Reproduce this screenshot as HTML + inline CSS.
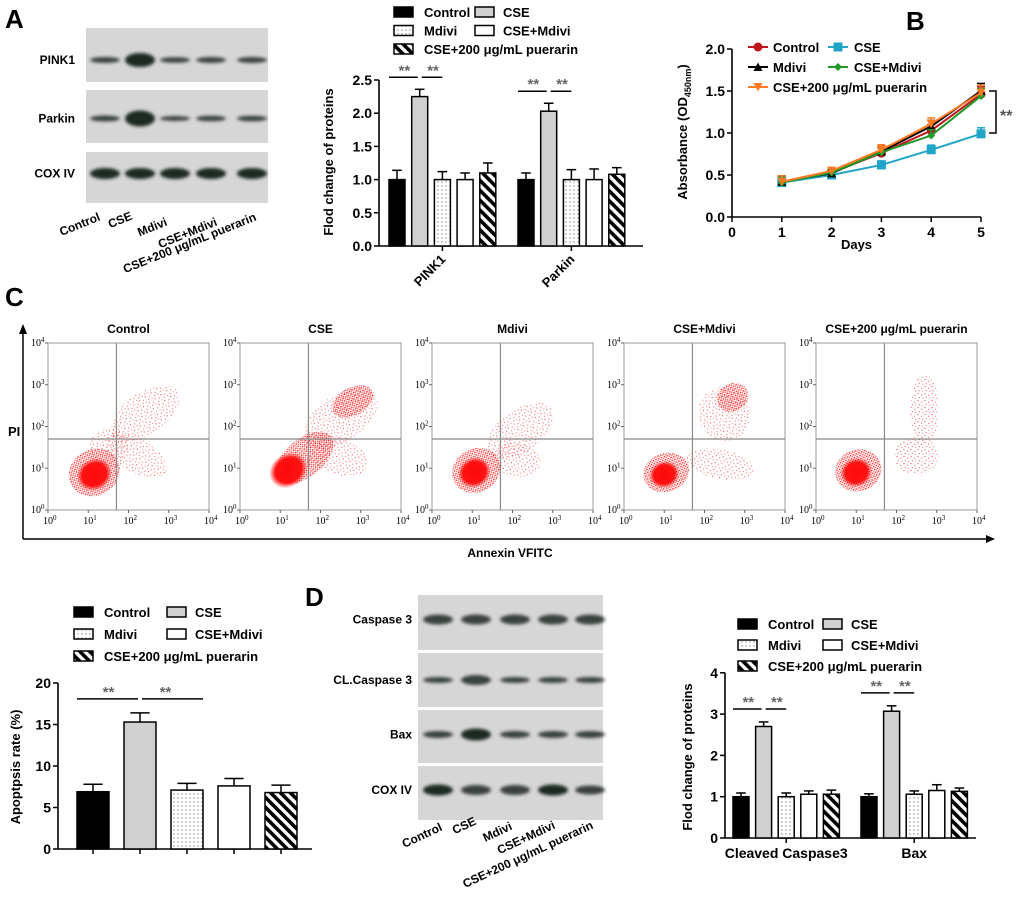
<!DOCTYPE html>
<html><head><meta charset="utf-8"><title>Figure</title>
<style>
html,body{margin:0;padding:0;background:#fff;}
svg{display:block;}
text{font-family:"Liberation Sans",Arial,sans-serif;font-weight:bold;}
.serif{font-family:"Liberation Serif",serif;font-weight:normal;}
</style></head>
<body>
<svg id="fig" width="1020" height="907" viewBox="0 0 1020 907">
<defs>
  <pattern id="dots" width="4" height="4" patternUnits="userSpaceOnUse"><rect width="4" height="4" fill="#fff"/><circle cx="2" cy="2" r="0.7" fill="#8a8a8a"/></pattern>
  <pattern id="hatch" width="7" height="7" patternUnits="userSpaceOnUse" patternTransform="rotate(-45)"><rect width="7" height="7" fill="#fff"/><rect width="3.6" height="7" fill="#000"/></pattern>
  <pattern id="sp1" width="7" height="7" patternUnits="userSpaceOnUse"><circle cx="1" cy="1.5" r="0.6" fill="#f22"/><circle cx="4.6" cy="3.2" r="0.6" fill="#f44"/><circle cx="2.3" cy="5.6" r="0.55" fill="#f33"/><circle cx="5.8" cy="6.2" r="0.5" fill="#f22"/></pattern>
  <pattern id="sp2" width="3" height="3" patternUnits="userSpaceOnUse"><circle cx="1" cy="1" r="0.8" fill="#f00"/><circle cx="2.5" cy="2.4" r="0.6" fill="#f33"/></pattern>
  <radialGradient id="core"><stop offset="0" stop-color="#f00" stop-opacity="1"/><stop offset="0.7" stop-color="#f00" stop-opacity="0.95"/><stop offset="1" stop-color="#f00" stop-opacity="0"/></radialGradient>
  <filter id="blur" x="-50%" y="-100%" width="200%" height="300%"><feGaussianBlur stdDeviation="1.6"/></filter>
</defs>
</svg>
<script>
const NS='http://www.w3.org/2000/svg';
const svg=document.getElementById('fig');

/* ---------- data ---------- */
const groupNames=['Control','CSE','Mdivi','CSE+Mdivi','CSE+200 μg/mL puerarin'];
const aCategories=['PINK1','Parkin'];
const aValues=[[1.0,2.25,1.0,1.0,1.10],[1.0,2.03,1.0,1.0,1.08]];
const aErrors=[[0.14,0.11,0.12,0.10,0.15],[0.10,0.12,0.15,0.16,0.10]];
const aTicks=[0,0.5,1.0,1.5,2.0,2.5];
const bDays=[1,2,3,4,5];
const bControl=[0.41,0.53,0.76,1.03,1.46];
const bCSE=[0.41,0.50,0.62,0.80,0.99];
const bMdivi=[0.42,0.52,0.78,1.08,1.50];
const bCSEMdivi=[0.41,0.53,0.77,0.97,1.44];
const bPuerarin=[0.42,0.55,0.80,1.11,1.48];
const bErrors=[0.07,0.04,0.06,0.07,0.09];
const bXTicks=[0,1,2,3,4,5];
const bYTicks=[0,0.5,1.0,1.5,2.0];
const cValues=[6.9,15.3,7.1,7.6,6.8];
const cErrors=[0.9,1.1,0.8,0.9,0.9];
const cTicks=[0,5,10,15,20];
const dCategories=['Cleaved Caspase3','Bax'];
const dValues=[[1.0,2.70,1.0,1.06,1.06],[1.0,3.07,1.06,1.15,1.13]];
const dErrors=[[0.09,0.11,0.09,0.08,0.10],[0.07,0.13,0.08,0.14,0.08]];
const dTicks=[0,1,2,3,4];

const barFills=['#000','#d0d0d0','url(#dots)','#fff','url(#hatch)'];

function mk(tag,attrs,parent){const e=document.createElementNS(NS,tag);for(const k in attrs)e.setAttribute(k,attrs[k]);(parent||svg).appendChild(e);return e;}
function txt(x,y,s,attrs,parent){const e=mk('text',Object.assign({x:x,y:y},attrs||{}),parent);e.textContent=s;return e;}

/* ---------- panel letters ---------- */
[['A',5,28],['B',906,30],['C',5,306],['D',305,606]].forEach(function(p){
  const t=txt(p[1],p[2],p[0],{'font-size':26});
  
  
});

/* ---------- legends ---------- */
function legend(x,y,dy,col2){
  const g=mk('g',{});
  
  
  groupNames.forEach(function(n,i){
    const col=(i===1||i===3)?1:0;
    const r=i===4?2:Math.floor(i/2);
    const bx=col?col2:x, by=y+r*dy;
    const b=mk('rect',{x:bx,y:by-5,width:19,height:10,fill:barFills[i],stroke:'#000','stroke-width':1.5},g);
    
    
    const t=txt(bx+(col?28:30),by+5,n,{'font-size':13},g);
    
    
  });
}
legend(394,12,18.5,475);
legend(74,612,22,167);
legend(738,624,21,823);

/* ---------- grouped bar chart ---------- */
function barChart(o){
  const g=mk('g',{});
  
  
  const y=function(v){return o.yBase-(v-o.ticks[0])*o.ppu;};
  const top=y(o.ticks[o.ticks.length-1]);
  mk('line',{x1:o.x0,y1:top,x2:o.x0,y2:o.yBase,stroke:'#000','stroke-width':1.6},g);
  mk('line',{x1:o.x0,y1:o.yBase,x2:o.x1,y2:o.yBase,stroke:'#000','stroke-width':1.6},g);
  o.ticks.forEach(function(t){
    mk('line',{x1:o.x0-5,y1:y(t),x2:o.x0,y2:y(t),stroke:'#000','stroke-width':1.5},g);
    const l=txt(o.x0-7,y(t)+5,o.fmt(t),{'font-size':14,'text-anchor':'end'},g);
    
    
  });
  o.values.forEach(function(vals,gi){
    const gs=o.x0+o.pad+gi*o.gap;
    vals.forEach(function(v,bi){
      const bx=gs+bi*o.step, e=o.errors[gi][bi];
      mk('line',{x1:bx+o.w/2,y1:y(v),x2:bx+o.w/2,y2:y(v+e),stroke:'#000','stroke-width':1.5},g);
      mk('line',{x1:bx+o.w/2-o.w*0.3,y1:y(v+e),x2:bx+o.w/2+o.w*0.3,y2:y(v+e),stroke:'#000','stroke-width':1.5},g);
      const r=mk('rect',{x:bx,y:y(v),width:o.w,height:o.yBase-y(v),fill:barFills[bi],stroke:'#000','stroke-width':1.5},g);
      
      
      if(o.barTicks) mk('line',{x1:bx+o.w/2,y1:o.yBase,x2:bx+o.w/2,y2:o.yBase+5,stroke:'#000','stroke-width':1.5},g);
    });
    const cx=gs+2*o.step+o.w/2;
    if(!o.barTicks) mk('line',{x1:cx,y1:o.yBase,x2:cx,y2:o.yBase+5,stroke:'#000','stroke-width':1.5},g);
    const sy=y(vals[1]+o.errors[gi][1])-o.sigGap;
    const c0=gs, c1=gs+o.step+o.w/2, c2=gs+2*o.step+o.w/2;
    mk('line',{x1:c0,y1:sy,x2:c1-2,y2:sy,stroke:'#000','stroke-width':1.5},g);
    mk('line',{x1:c1+2,y1:sy,x2:c2+(o.barTicks?o.w/2:0),y2:sy,stroke:'#000','stroke-width':1.5},g);
    const s1=txt((c0+c1)/2,sy-2,'**',{'font-size':15,'text-anchor':'middle',fill:'#666'},g);
    
    
    const s2=txt((c1+c2)/2+2,sy-2,'**',{'font-size':15,'text-anchor':'middle',fill:'#666'},g);
    
    
    if(o.cats){
      const cl=o.catRot?txt(cx+4,o.yBase+14,o.cats[gi],{'font-size':13,'text-anchor':'end',transform:'rotate(-45 '+(cx+4)+' '+(o.yBase+14)+')'},g)
                        :txt(cx,o.yBase+20,o.cats[gi],{'font-size':14,'text-anchor':'middle'},g);
      
      
    }
  });
  const yl=txt(0,0,o.ylabel,{'font-size':13,'text-anchor':'middle',transform:'translate('+o.ylx+','+o.yly+') rotate(-90)'},g);
  
  
}
barChart({name:'chart-a-protein-fold',x0:379,x1:643,yBase:246,ppu:66.4,pad:10,gap:129,step:22.7,w:16,values:aValues,errors:aErrors,ticks:aTicks,fmt:function(t){return t.toFixed(1);},cats:aCategories,catRot:true,sigGap:12,ylabel:'Flod change of  proteins',ylx:333,yly:162});
barChart({name:'chart-c-apoptosis-rate',x0:58,x1:312,yBase:849,ppu:8.3,pad:19,gap:0,step:47,w:32,values:[cValues],errors:[cErrors],ticks:cTicks,fmt:function(t){return String(t);},barTicks:true,sigGap:14,ylabel:'Apoptpsis rate (%)',ylx:20,yly:767});
barChart({name:'chart-d-protein-fold',x0:725,x1:976,yBase:838,ppu:41.3,pad:8,gap:128,step:22.6,w:16,values:dValues,errors:dErrors,ticks:dTicks,fmt:function(t){return String(t);},cats:dCategories,sigGap:13,ylabel:'Flod change of  proteins',ylx:692,yly:757});

/* ---------- B line chart ---------- */
(function(){
  const g=mk('g',{});
  
  
  const X=function(d){return 732+d*49.8;}, Y=function(v){return 217-v*84;};
  mk('line',{x1:X(0),y1:Y(2),x2:X(0),y2:Y(0),stroke:'#000','stroke-width':1.6},g);
  mk('line',{x1:X(0),y1:Y(0),x2:X(5),y2:Y(0),stroke:'#000','stroke-width':1.6},g);
  bYTicks.forEach(function(t){
    mk('line',{x1:X(0)-5,y1:Y(t),x2:X(0),y2:Y(t),stroke:'#000','stroke-width':1.5},g);
    const l=txt(X(0)-7,Y(t)+5,t.toFixed(1),{'font-size':14,'text-anchor':'end'},g);
    
    
  });
  bXTicks.forEach(function(t){
    mk('line',{x1:X(t),y1:Y(0),x2:X(t),y2:Y(0)+5,stroke:'#000','stroke-width':1.5},g);
    const l=txt(X(t),Y(0)+20,String(t),{'font-size':14,'text-anchor':'middle'},g);
    
    
  });
  const xt=txt(X(2.5),249,'Days',{'font-size':13,'text-anchor':'middle'},g);
  
  
  const yt=mk('text',{x:0,y:0,'font-size':13,'text-anchor':'middle',transform:'translate(687,132) rotate(-90)'},g);
  yt.innerHTML='Absorbance (OD<tspan font-size="9" dy="4">450nm</tspan><tspan dy="-4">)</tspan>';
  
  
  const series=[['Control',bControl,'#c0141c','circle'],['CSE',bCSE,'#20a4c8','square'],['Mdivi',bMdivi,'#000','tri'],['CSE+Mdivi',bCSEMdivi,'#1f9a2a','diamond'],['CSE+200 μg/mL puerarin',bPuerarin,'#ff7a22','tridown']];
  function marker(x,y,shape,c,par){
    if(shape==='circle') return mk('circle',{cx:x,cy:y,r:4.5,fill:c},par);
    if(shape==='square') return mk('rect',{x:x-4.5,y:y-4.5,width:9,height:9,fill:c},par);
    if(shape==='tri') return mk('polygon',{points:(x-4.5)+','+(y+4)+' '+(x+4.5)+','+(y+4)+' '+x+','+(y-4.5),fill:c},par);
    if(shape==='diamond') return mk('polygon',{points:x+','+(y-4)+' '+(x+4)+','+y+' '+x+','+(y+4)+' '+(x-4)+','+y,fill:c},par);
    return mk('polygon',{points:(x-4.5)+','+(y-4)+' '+(x+4.5)+','+(y-4)+' '+x+','+(y+4.5),fill:c},par);
  }
  series.forEach(function(s,si){
    const sg=mk('g',{},g);
    
    
    s[1].forEach(function(v,i){
      const e=bErrors[i]*(si===1?0.8:1);
      mk('line',{x1:X(bDays[i]),y1:Y(v),x2:X(bDays[i]),y2:Y(v+e),stroke:s[2],'stroke-width':1.5},sg);
      mk('line',{x1:X(bDays[i])-4,y1:Y(v+e),x2:X(bDays[i])+4,y2:Y(v+e),stroke:s[2],'stroke-width':1.5},sg);
    });
    const pts=s[1].map(function(v,i){return X(bDays[i])+','+Y(v);}).join(' ');
    const pl=mk('polyline',{points:pts,fill:'none',stroke:s[2],'stroke-width':2},sg);
    
    
    s[1].forEach(function(v,i){
      const m=marker(X(bDays[i]),Y(v),s[3],s[2],sg);
      
      
    });
    const col=(si===1||si===3)?1:0, row=si===4?2:Math.floor(si/2);
    const lx=col?838:758, ly=47+row*20;
    mk('line',{x1:lx-10,y1:ly,x2:lx+10,y2:ly,stroke:s[2],'stroke-width':2},sg);
    marker(lx,ly,s[3],s[2],sg);
    const lt=txt(lx+(col?16:15),ly+5,s[0],{'font-size':13},sg);
    
    
  });
  const br=mk('polyline',{points:(X(5)+8)+','+Y(1.5)+' '+(X(5)+15)+','+Y(1.5)+' '+(X(5)+15)+','+Y(1.0)+' '+(X(5)+8)+','+Y(1.0),fill:'none',stroke:'#000','stroke-width':1.5},g);
  
  
  const st=txt(X(5)+19,Y(1.25)+9,'**',{'font-size':16,fill:'#555'},g);
  
  
})();

/* ---------- western blots ---------- */
function blot(o){
  const g=mk('g',{});
  
  
  o.rows.forEach(function(r){
    const bg=mk('rect',{x:o.x,y:r.y0,width:o.w,height:r.y1-r.y0,fill:'#d6d6d6'},g);
    
    
    r.k.forEach(function(k,i){
      const cy=(r.y0+r.y1)/2+(r.off||0);
      mk('ellipse',{cx:o.lanes[i],cy:cy,rx:o.bw,ry:k,fill:k>5?'#1e2a22':'#3a423c',filter:'url(#blur)'},g);
    });
    const lb=txt(o.labelX,(r.y0+r.y1)/2+(r.off||0)+4,r.label,{'font-size':12,'text-anchor':'end'},g);
    
    
  });
  groupNames.forEach(function(n,i){
    const e=o.ends[i];
    const t=txt(e[0],e[1],n,{'font-size':12,'text-anchor':'end',transform:'rotate('+o.rot+' '+e[0]+' '+e[1]+')'},g);
    
    
  });
}
blot({name:'blot-a',x:86,w:182,lanes:[105,140,175,211,252],bw:15,labelX:75,rot:-22,
  rows:[{label:'PINK1',y0:28,y1:82,k:[3,7,2.8,3,3],off:5},{label:'Parkin',y0:90,y1:143,k:[3,8,2.5,2.8,2.8],off:2},{label:'COX IV',y0:152,y1:203,k:[5.5,5.5,5.5,5.5,5.5],off:-4}],
  ends:[[101,220],[133,219],[168,225],[218,225],[257,220]]});
blot({name:'blot-d',x:418,w:185,lanes:[438,476,515,553,590],bw:15,labelX:412,rot:-25,
  rows:[{label:'Caspase 3',y0:595,y1:650,k:[5,5,5,5,5],off:-3},{label:'CL.Caspase 3',y0:653,y1:707,k:[3,5,3,3,3]},{label:'Bax',y0:710,y1:763,k:[3.5,6,3.5,3.5,3.5],off:-2},{label:'COX IV',y0:766,y1:820,k:[5.5,5,5,5.5,4.5],off:-3}],
  ends:[[443,830],[477,824],[513,829],[556,828],[594,828]]});

/* ---------- C flow cytometry ---------- */
(function(){
  const titles=groupNames;
  const clouds=[
    [[2.2,1.3,0.85,0.4,30,'sp1'],[2.4,2.3,1.0,0.5,-35,'sp1'],[1.5,1.5,0.5,0.45,-40,'sp1'],[1.15,0.9,0.65,0.55,-30,'sp2'],[1.15,0.85,0.45,0.38,-30,'core']],
    [[2.5,2.2,1.05,0.55,-35,'sp1'],[2.8,2.6,0.55,0.33,-30,'sp2'],[2.4,1.3,0.8,0.45,20,'sp1'],[1.6,1.25,0.85,0.45,-40,'sp2'],[1.2,0.95,0.5,0.4,-35,'core']],
    [[2.2,1.9,0.95,0.5,-35,'sp1'],[2.1,1.2,0.6,0.4,10,'sp1'],[1.1,0.95,0.62,0.52,-30,'sp2'],[1.05,0.9,0.42,0.36,-30,'core']],
    [[2.4,1.1,0.85,0.35,10,'sp1'],[2.5,2.3,0.65,0.65,-30,'sp1'],[2.7,2.7,0.4,0.33,-30,'sp2'],[1.05,0.9,0.58,0.46,-20,'sp2'],[1.0,0.85,0.38,0.32,-20,'core']],
    [[2.5,1.3,0.55,0.45,0,'sp1'],[2.7,2.4,0.35,0.85,0,'sp1'],[1.05,0.95,0.58,0.5,-20,'sp2'],[1.0,0.9,0.4,0.35,-20,'core']]
  ];
  const ax=mk('g',{});
  
  
  mk('line',{x1:23,y1:330,x2:23,y2:539,stroke:'#000','stroke-width':1.5},ax);
  mk('polygon',{points:'19,334 27,334 23,324',fill:'#000'},ax);
  mk('line',{x1:23,y1:539,x2:988,y2:539,stroke:'#000','stroke-width':1.5},ax);
  mk('polygon',{points:'986,535 986,543 995,539',fill:'#000'},ax);
  const pi=txt(8,436,'PI',{'font-size':13},ax);
  
  
  const an=txt(510,557,'Annexin VFITC',{'font-size':12,'text-anchor':'middle'},ax);
  
  
  for(let p=0;p<5;p++){
    const x0=48+p*192, w=161, y0=343, y1=510;
    const X=function(l){return x0+l*w/4;}, Y=function(l){return y1-l*(y1-y0)/4;};
    const g=mk('g',{});
    
    
    const cp=mk('clipPath',{id:'clip'+p},g);
    mk('rect',{x:x0,y:y0,width:w,height:y1-y0},cp);
    const cg=mk('g',{'clip-path':'url(#clip'+p+')'},g);
    clouds[p].forEach(function(c){
      const e=mk('ellipse',{cx:X(c[0]),cy:Y(c[1]),rx:c[2]*w/4,ry:c[3]*(y1-y0)/4,fill:c[5]==='core'?'url(#core)':'url(#'+c[5]+')',opacity:c[5]==='sp1'?0.85:0.95,transform:'rotate('+c[4]+' '+X(c[0])+' '+Y(c[1])+')'},cg);
      
      
    });
    mk('rect',{x:x0,y:y0,width:w,height:y1-y0,fill:'none',stroke:'#999','stroke-width':1},g);
    mk('line',{x1:X(1.7),y1:y0,x2:X(1.7),y2:y1,stroke:'#888','stroke-width':1.2},g);
    mk('line',{x1:x0,y1:Y(1.7),x2:x0+w,y2:Y(1.7),stroke:'#888','stroke-width':1.2},g);
    for(let d=0;d<=4;d++){
      const lx=mk('text',{x:X(d)-5,y:524,'font-size':10,class:'serif'},g);
      lx.innerHTML='10<tspan font-size="7" dy="-4">'+d+'</tspan>';
      
      
      const ly=mk('text',{x:x0-17,y:Y(d)+3,'font-size':10,class:'serif'},g);
      ly.innerHTML='10<tspan font-size="7" dy="-4">'+d+'</tspan>';
      
      
      mk('line',{x1:X(d),y1:y1,x2:X(d),y2:y1+3,stroke:'#666'},g);
      mk('line',{x1:x0-3,y1:Y(d),x2:x0,y2:Y(d),stroke:'#666'},g);
    }
    const t=txt(x0+w/2,333,titles[p],{'font-size':12,'text-anchor':'middle'},g);
    
    
  }
})();
</script>
</body></html>
